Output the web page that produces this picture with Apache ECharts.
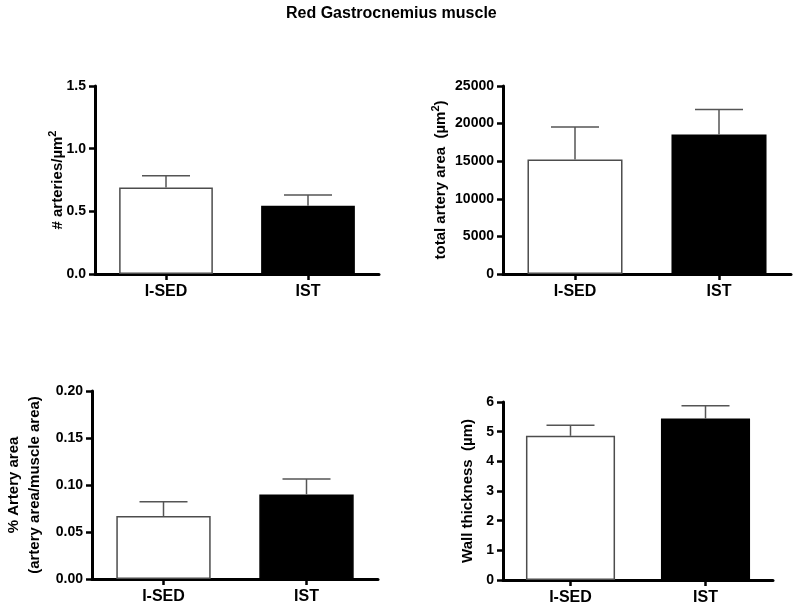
<!DOCTYPE html>
<html>
<head>
<meta charset="utf-8">
<script src="https://cdn.jsdelivr.net/npm/echarts@6/dist/echarts.min.js"></script>
<style>html,body{margin:0;padding:0;background:#fff}#c{width:800px;height:606px}</style>
</head>
<body>
<div id="c"></div>
<script>
const categories = ['I-SED', 'IST'];
const arteriesMean = [0.69, 0.545];
const arteriesSem = [0.093, 0.085];
const areaMean = [15230, 18550];
const areaSem = [4330, 3310];
const pctMean = [0.067, 0.090];
const pctSem = [0.0152, 0.0163];
const wallMean = [4.86, 5.44];
const wallSem = [0.36, 0.43];

const fillColors = ['#ffffff', '#000000'];
const edgeColors = ['#4d4d4d', '#000000'];
const FONT = 'Liberation Sans, Arial, sans-serif';

const chart = echarts.init(document.getElementById('c'), null, {renderer: 'canvas'});

const grids = [
  {left: 95, top: 86, width: 284, height: 188},
  {left: 503, top: 86, width: 288, height: 188},
  {left: 92, top: 391, width: 286, height: 188},
  {left: 503, top: 402, width: 270, height: 179}
];

const panels = [
  {mean: arteriesMean, sem: arteriesSem, max: 1.5, interval: 0.5, dec: 1, name: '{n|# arteries/µm}{s|2}', gap: 27},
  {mean: areaMean, sem: areaSem, max: 25000, interval: 5000, dec: 0, name: '{n|total artery area  (µm}{s|2}{n|)}', gap: 52},
  {mean: pctMean, sem: pctSem, max: 0.2, interval: 0.05, dec: 2, name: '% Artery area\n(artery area/muscle area)', gap: 47},
  {mean: wallMean, sem: wallSem, max: 6, interval: 1, dec: 0, name: 'Wall thickness  (µm)', gap: 25}
];

const axisLine = {show: true, lineStyle: {color: '#000', width: 3}};
const axisTick = {show: true, length: 6, lineStyle: {color: '#000', width: 2.5}};
const labelStyle = {color: '#000', fontWeight: 'bold', fontSize: 14, fontFamily: FONT};
const nameRich = {
  n: {color: '#000', fontWeight: 'bold', fontSize: 15, fontFamily: FONT, lineHeight: 21, verticalAlign: 'middle'},
  s: {color: '#000', fontWeight: 'bold', fontSize: 11, fontFamily: FONT, lineHeight: 17, verticalAlign: 'top'}
};

function errRender(params, api) {
  const x = api.value(0);
  const p0 = api.coord([x, api.value(1)]);
  const p1 = api.coord([x, api.value(2)]);
  const hw = 24;
  const st = {stroke: '#555', lineWidth: 1.5};
  return {
    type: 'group',
    children: [
      {type: 'line', shape: {x1: p0[0], y1: p0[1], x2: p1[0], y2: p1[1]}, style: st},
      {type: 'line', shape: {x1: p1[0] - hw, y1: p1[1], x2: p1[0] + hw, y2: p1[1]}, style: st}
    ]
  };
}

const xAxes = [], yAxes = [], series = [];
panels.forEach((p, i) => {
  xAxes.push({
    type: 'category', gridIndex: i, data: categories,
    axisLine: axisLine, axisTick: Object.assign({alignWithLabel: true}, axisTick),
    axisLabel: Object.assign({}, labelStyle, {margin: 10, fontSize: 16}),
    splitLine: {show: false}
  });
  yAxes.push({
    type: 'value', gridIndex: i, min: 0, max: p.max, interval: p.interval,
    axisLine: axisLine, axisTick: axisTick,
    axisLabel: Object.assign({}, labelStyle, {margin: 9, fontSize: 14, formatter: v => v.toFixed(p.dec)}),
    splitLine: {show: false},
    name: p.name, nameLocation: 'middle', nameGap: p.gap, nameMoveOverlap: false,
    nameTextStyle: {color: '#000', fontWeight: 'bold', fontSize: 15, fontFamily: FONT, lineHeight: 21, rich: nameRich}
  });
  series.push({
    type: 'bar', xAxisIndex: i, yAxisIndex: i, barWidth: '66%',
    data: p.mean.map((v, k) => ({value: v, itemStyle: {color: fillColors[k], borderColor: edgeColors[k], borderWidth: 1.5}})),
    z: 2, silent: true
  });
  series.push({
    type: 'custom', xAxisIndex: i, yAxisIndex: i, renderItem: errRender,
    data: p.mean.map((v, k) => [k, v, v + p.sem[k]]),
    z: 3, silent: true
  });
});

chart.setOption({
  animation: false,
  backgroundColor: '#fff',
  title: {
    text: 'Red Gastrocnemius muscle', left: 281, top: 1,
    textStyle: {color: '#000', fontWeight: 'bold', fontSize: 16, fontFamily: FONT}
  },
  grid: grids,
  xAxis: xAxes,
  yAxis: yAxes,
  series: series
});
</script>
</body>
</html>
